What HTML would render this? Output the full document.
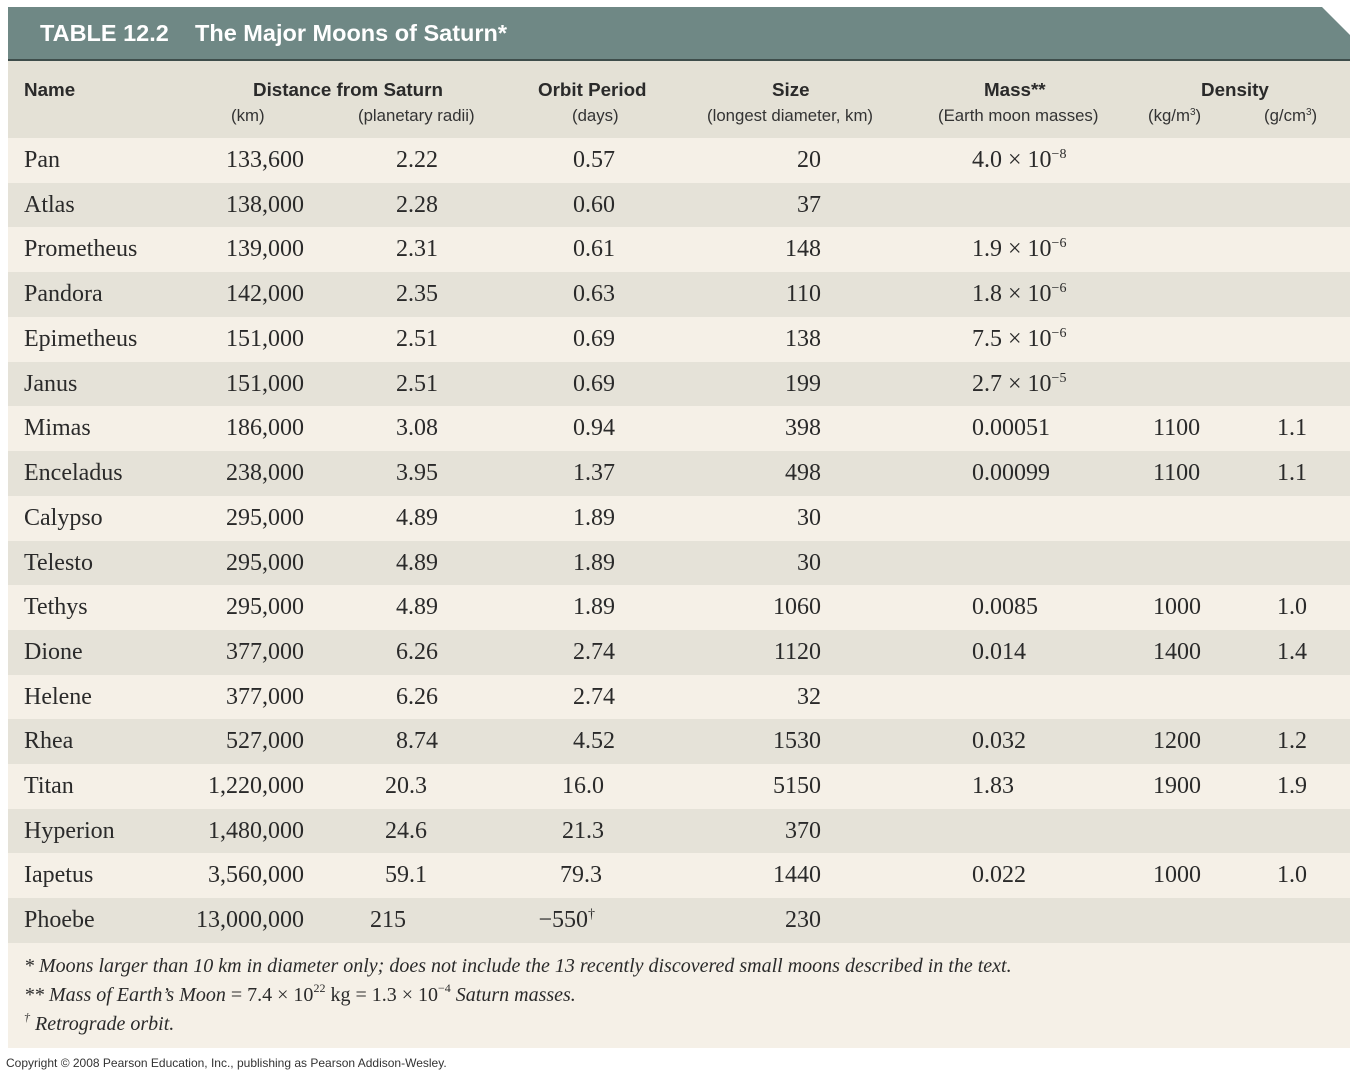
<!DOCTYPE html>
<html><head><meta charset="utf-8"><style>
body{margin:0;width:1359px;height:1080px;background:#fff;position:relative;overflow:hidden;font-family:"Liberation Serif",serif;color:#2a2a2a}
.ban{position:absolute;left:8px;top:7px;width:1342px;height:54px;background:#6f8885;clip-path:polygon(0 0,1314px 0,1342px 28px,1342px 54px,0 54px);border-bottom:2px solid #3e4d4b;box-sizing:border-box}
.t{position:absolute;top:20px;color:#fff;font:bold 23.5px "Liberation Sans",sans-serif}
.hd{position:absolute;left:8px;top:61px;width:1342px;height:77px;background:#e4e1d6}
.h{position:absolute;font:bold 18.8px "Liberation Sans",sans-serif;top:79px;color:#2a2a2a}
.s{position:absolute;font:16.8px "Liberation Sans",sans-serif;top:106px;color:#333}
.row{position:absolute;left:8px;width:1342px;height:45px;background:#f5f0e7}
.row.a{background:#e5e2d8}
.row span{position:absolute;top:0;line-height:45px;font-size:24px;white-space:nowrap}
.n{left:16px}.km{right:1046px}.r{right:912px}.o{right:735px}.z{right:529px}.m{left:964px}.dk{left:1145px}.dg{left:1269px}
sup{font-size:14px;vertical-align:9px;line-height:0}
.foot{position:absolute;left:8px;top:943px;width:1342px;height:105px;background:#f5f0e7}
.foot div{position:absolute;left:16px;font-size:20px;font-style:italic;white-space:nowrap}
.cp{position:absolute;left:6px;top:1056px;font:12px "Liberation Sans",sans-serif;color:#333}
</style></head><body>
<div class="ban"></div>
<div class="t" style="left:40px">TABLE 12.2</div>
<div class="t" style="left:195px">The Major Moons of Saturn*</div>
<div class="hd"></div>
<div class="h" style="left:253px">Distance from Saturn</div>
<div class="h" style="left:24px">Name</div>
<div class="h" style="left:538px">Orbit Period</div>
<div class="h" style="left:772px">Size</div>
<div class="h" style="left:984px">Mass**</div>
<div class="h" style="left:1201px">Density</div>
<div class="s" style="left:231px">(km)</div>
<div class="s" style="left:358px">(planetary radii)</div>
<div class="s" style="left:572px">(days)</div>
<div class="s" style="left:707px">(longest diameter, km)</div>
<div class="s" style="left:938px">(Earth moon masses)</div>
<div class="s" style="left:1148px">(kg/m<sup style="font-size:10px;vertical-align:6px">3</sup>)</div>
<div class="s" style="left:1264px">(g/cm<sup style="font-size:10px;vertical-align:6px">3</sup>)</div>

<div class="row" style="top:138px"><span class="n">Pan</span><span class="km">133,600</span><span class="r">2.22</span><span class="o">0.57</span><span class="z">20</span><span class="m">4.0 × 10<sup>−8</sup></span></div>
<div class="row a" style="top:183px"><span class="n">Atlas</span><span class="km">138,000</span><span class="r">2.28</span><span class="o">0.60</span><span class="z">37</span></div>
<div class="row" style="top:227px"><span class="n">Prometheus</span><span class="km">139,000</span><span class="r">2.31</span><span class="o">0.61</span><span class="z">148</span><span class="m">1.9 × 10<sup>−6</sup></span></div>
<div class="row a" style="top:272px"><span class="n">Pandora</span><span class="km">142,000</span><span class="r">2.35</span><span class="o">0.63</span><span class="z">110</span><span class="m">1.8 × 10<sup>−6</sup></span></div>
<div class="row" style="top:317px"><span class="n">Epimetheus</span><span class="km">151,000</span><span class="r">2.51</span><span class="o">0.69</span><span class="z">138</span><span class="m">7.5 × 10<sup>−6</sup></span></div>
<div class="row a" style="top:362px"><span class="n">Janus</span><span class="km">151,000</span><span class="r">2.51</span><span class="o">0.69</span><span class="z">199</span><span class="m">2.7 × 10<sup>−5</sup></span></div>
<div class="row" style="top:406px"><span class="n">Mimas</span><span class="km">186,000</span><span class="r">3.08</span><span class="o">0.94</span><span class="z">398</span><span class="m">0.00051</span><span class="dk">1100</span><span class="dg">1.1</span></div>
<div class="row a" style="top:451px"><span class="n">Enceladus</span><span class="km">238,000</span><span class="r">3.95</span><span class="o">1.37</span><span class="z">498</span><span class="m">0.00099</span><span class="dk">1100</span><span class="dg">1.1</span></div>
<div class="row" style="top:496px"><span class="n">Calypso</span><span class="km">295,000</span><span class="r">4.89</span><span class="o">1.89</span><span class="z">30</span></div>
<div class="row a" style="top:541px"><span class="n">Telesto</span><span class="km">295,000</span><span class="r">4.89</span><span class="o">1.89</span><span class="z">30</span></div>
<div class="row" style="top:585px"><span class="n">Tethys</span><span class="km">295,000</span><span class="r">4.89</span><span class="o">1.89</span><span class="z">1060</span><span class="m">0.0085</span><span class="dk">1000</span><span class="dg">1.0</span></div>
<div class="row a" style="top:630px"><span class="n">Dione</span><span class="km">377,000</span><span class="r">6.26</span><span class="o">2.74</span><span class="z">1120</span><span class="m">0.014</span><span class="dk">1400</span><span class="dg">1.4</span></div>
<div class="row" style="top:675px"><span class="n">Helene</span><span class="km">377,000</span><span class="r">6.26</span><span class="o">2.74</span><span class="z">32</span></div>
<div class="row a" style="top:719px"><span class="n">Rhea</span><span class="km">527,000</span><span class="r">8.74</span><span class="o">4.52</span><span class="z">1530</span><span class="m">0.032</span><span class="dk">1200</span><span class="dg">1.2</span></div>
<div class="row" style="top:764px"><span class="n">Titan</span><span class="km">1,220,000</span><span class="r" style="right:923px">20.3</span><span class="o" style="right:746px">16.0</span><span class="z">5150</span><span class="m">1.83</span><span class="dk">1900</span><span class="dg">1.9</span></div>
<div class="row a" style="top:809px"><span class="n">Hyperion</span><span class="km">1,480,000</span><span class="r" style="right:923px">24.6</span><span class="o" style="right:746px">21.3</span><span class="z">370</span></div>
<div class="row" style="top:853px"><span class="n">Iapetus</span><span class="km">3,560,000</span><span class="r" style="right:923px">59.1</span><span class="o" style="right:748px">79.3</span><span class="z">1440</span><span class="m">0.022</span><span class="dk">1000</span><span class="dg">1.0</span></div>
<div class="row a" style="top:898px"><span class="n">Phoebe</span><span class="km">13,000,000</span><span class="r" style="right:944px">215</span><span class="o" style="right:755px">−550<sup>†</sup></span><span class="z">230</span></div>

<div class="foot">
<div style="top:12px">* Moons larger than 10 km in diameter only; does not include the 13 recently discovered small moons described in the text.</div>
<div style="top:41px">** Mass of Earth’s Moon <span style="font-style:normal">= 7.4 × 10<sup style="font-size:12px">22</sup> kg = 1.3 × 10<sup style="font-size:12px">−4</sup></span> Saturn masses.</div>
<div style="top:70px"><sup style="font-size:12px">†</sup> Retrograde orbit.</div>
</div>
<div class="cp">Copyright © 2008 Pearson Education, Inc., publishing as Pearson Addison-Wesley.</div>
</body></html>
